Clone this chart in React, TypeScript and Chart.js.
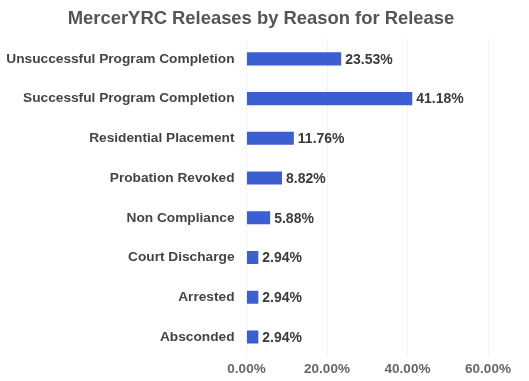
import React, { useEffect, useRef } from "react";
import { Chart, registerables } from "chart.js";

Chart.register(...registerables);

const titleText = "MercerYRC Releases by Reason for Release";
const categories = [
  "Unsuccessful Program Completion",
  "Successful Program Completion",
  "Residential Placement",
  "Probation Revoked",
  "Non Compliance",
  "Court Discharge",
  "Arrested",
  "Absconded",
];
const percentValues = [23.53, 41.18, 11.76, 8.82, 5.88, 2.94, 2.94, 2.94];
const axisMax = 60;
const axisStep = 20;

const FONT = "'Liberation Sans', Arial, sans-serif";

const valueLabelPlugin = {
  id: "valueLabels",
  afterDatasetsDraw(chart: any) {
    const ctx = chart.ctx;
    const meta = chart.getDatasetMeta(0);
    ctx.save();
    ctx.font = "bold 14px " + FONT;
    ctx.fillStyle = "#3a3a3a";
    ctx.textAlign = "left";
    ctx.textBaseline = "middle";
    meta.data.forEach((el: any, i: number) => {
      const v = chart.data.datasets[0].data[i] as number;
      ctx.fillText(v.toFixed(2) + "%", el.x + 4, el.y + 1);
    });
    // title
    ctx.font = "bold 18.4px " + FONT;
    ctx.fillStyle = "#555555";
    ctx.textAlign = "center";
    ctx.fillText(titleText, 261, 19);
    ctx.restore();
  },
};

export default function App() {
  const ref = useRef<HTMLCanvasElement>(null);
  useEffect(() => {
    document.body.style.margin = "0";
    const chart = new Chart(ref.current!, {
      type: "bar",
      data: {
        labels: categories,
        datasets: [
          {
            data: percentValues,
            backgroundColor: "#3b5fd1",
            borderWidth: 0,
            barPercentage: 0.33,
            categoryPercentage: 1,
          },
        ],
      },
      options: {
        indexAxis: "y",
        responsive: false,
        animation: false,
        layout: { padding: { left: 5, right: 41, top: 39, bottom: 0 } },
        plugins: {
          legend: { display: false },
          tooltip: { enabled: false },
          title: { display: false },
        },
        scales: {
          x: {
            min: 0,
            max: axisMax,
            ticks: {
              stepSize: axisStep,
              color: "#666666",
              font: { family: FONT, size: 13.5, weight: "bold" },
              callback: (v: any) => Number(v).toFixed(2) + "%",
              padding: 4,
            },
            grid: { color: "#f3f3f3", drawTicks: false },
            border: { display: false },
          },
          y: {
            ticks: {
              color: "#444444",
              font: { family: FONT, size: 13.7, weight: "bold" },
              padding: 12,
            },
            grid: { display: false, drawTicks: false },
            border: { display: false },
          },
        },
      },
      plugins: [valueLabelPlugin],
    });
    return () => chart.destroy();
  }, []);
  return (
    <div style={{ width: 529, height: 381 }}>
      <canvas ref={ref} width={529} height={381} />
    </div>
  );
}
